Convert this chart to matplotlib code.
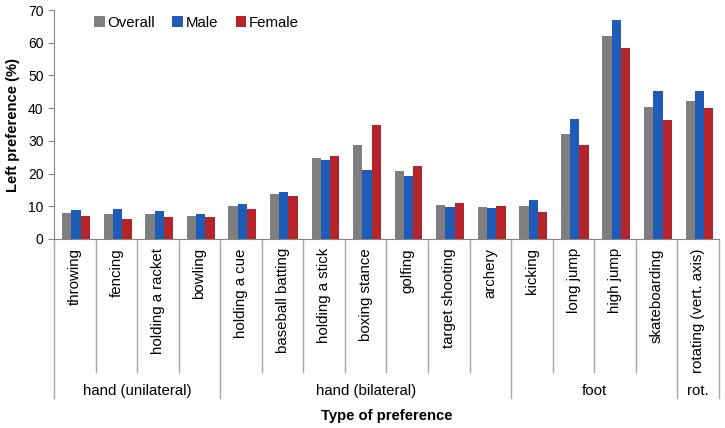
import numpy as np
import matplotlib.pyplot as plt
from matplotlib.transforms import blended_transform_factory

plt.rcParams['font.family'] = ['Liberation Sans', 'DejaVu Sans']

activities = ['throwing', 'fencing', 'holding a racket', 'bowling',
              'holding a cue', 'baseball batting', 'holding a stick', 'boxing stance',
              'golfing', 'target shooting', 'archery',
              'kicking', 'long jump', 'high jump', 'skateboarding',
              'rotating (vert. axis)']
overall = [7.9, 7.6, 7.7, 7.1, 10.0, 13.9, 24.8, 28.8, 20.8, 10.5, 9.9,
           10.0, 32.2, 62.2, 40.4, 42.3]
male = [9.0, 9.1, 8.7, 7.7, 10.8, 14.5, 24.0, 21.2, 19.2, 9.9, 9.6,
        12.0, 36.8, 66.9, 45.1, 45.1]
female = [7.1, 6.2, 6.8, 6.7, 9.3, 13.1, 25.5, 34.9, 22.3, 11.0, 10.2,
          8.4, 28.6, 58.5, 36.5, 40.0]
groups = ['hand (unilateral)', 'hand (bilateral)', 'foot', 'rot.']
group_sizes = [4, 7, 4, 1]

fig = plt.figure(figsize=(7.25, 4.28), dpi=100)
ax = fig.add_axes([0.0745, 0.4416, 0.9172, 0.535])

x = np.arange(len(activities))
w = 0.223
ax.bar(x - w + 0.03, overall, w, color='#7f7f7f', label='Overall')
ax.bar(x + 0.03, male, w, color='#1f5cb8', label='Male')
ax.bar(x + w + 0.03, female, w, color='#b5232b', label='Female')

ax.set_xlim(-0.5, len(activities) - 0.5)
ax.set_ylim(0, 70)
ax.set_yticks(range(0, 71, 10))
ax.tick_params(axis='y', labelsize=10, length=4, color='#868686')
ax.set_xticks([])
for s in ['top', 'right']:
    ax.spines[s].set_visible(False)
for s in ['left', 'bottom']:
    ax.spines[s].set_color('#868686')

trans = blended_transform_factory(ax.transData, ax.transAxes)
line_col = '#a6a6a6'

# category labels
for i, name in enumerate(activities):
    ax.text(i, -0.04, name, rotation=90, ha='center', va='top',
            fontsize=10.8, transform=trans)

# separators
bounds = np.cumsum([0] + group_sizes) - 0.5
for k in range(len(activities) + 1):
    xb = k - 0.5
    y_end = -0.694 if xb in bounds else -0.581
    ax.plot([xb, xb], [0, y_end], color=line_col, lw=1,
            transform=trans, clip_on=False)

# group labels
for g, lo, hi in zip(groups, bounds[:-1], bounds[1:]):
    ax.text((lo + hi) / 2, -0.664, g, ha='center', va='center',
            fontsize=10.8, transform=trans)

ax.text(0.5, -0.775, 'Type of preference', ha='center', va='center',
        fontsize=10.7, fontweight='bold', transform=ax.transAxes)
ax.set_ylabel('Left preference (%)', fontsize=10.6, fontweight='bold', labelpad=6)

ax.legend(loc='upper left', bbox_to_anchor=(0.04, 1.035), ncol=3, frameon=False,
          fontsize=10.8, handlelength=0.7, handleheight=0.7, handletextpad=0.2,
          columnspacing=1.15)

fig.savefig('out.png', dpi=100)
